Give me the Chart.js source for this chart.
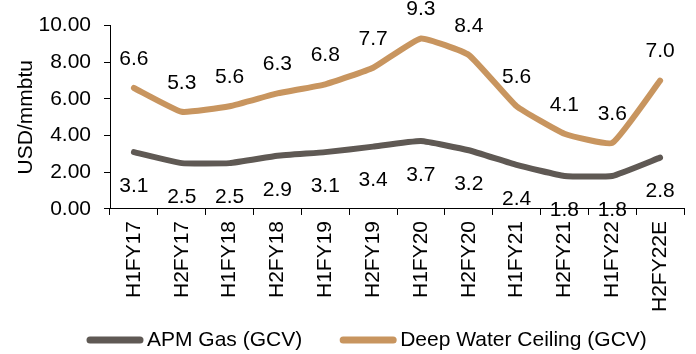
<!DOCTYPE html>
<html>
<head>
<meta charset="utf-8">
<script src="https://cdn.jsdelivr.net/npm/chart.js@4/dist/chart.umd.min.js"></script>
<style>
  body { margin: 0; background: #fff; }
  canvas { display: block; }
</style>
</head>
<body>
<canvas id="gas" width="696" height="354"></canvas>
<script>
// half-year periods
const periods = ['H1FY17', 'H2FY17', 'H1FY18', 'H2FY18', 'H1FY19', 'H2FY19',
                 'H1FY20', 'H2FY20', 'H1FY21', 'H2FY21', 'H1FY22', 'H2FY22E'];
const apmGas = [3.1, 2.5, 2.5, 2.9, 3.1, 3.4, 3.7, 3.2, 2.4, 1.8, 1.8, 2.8];
const deepWater = [6.6, 5.3, 5.6, 6.3, 6.8, 7.7, 9.3, 8.4, 5.6, 4.1, 3.6, 7.0];
const yTicks = [0, 2, 4, 6, 8, 10];

const FONT = "'Liberation Sans', Arial, sans-serif";
const FS = 21;

// value labels: tan above the line, grey below
const valueLabels = {
    id: 'valueLabels',
    afterDatasetsDraw(chart) {
        const ctx = chart.ctx;
        ctx.save();
        ctx.font = FS + 'px ' + FONT;
        ctx.fillStyle = '#000';
        ctx.textAlign = 'center';
        ctx.textBaseline = 'middle';
        chart.data.datasets.forEach((ds, i) => {
            const meta = chart.getDatasetMeta(i);
            const off = i === 0 ? 34 : -29;
            meta.data.forEach((pt, j) => {
                ctx.fillText(ds.data[j].toFixed(1), pt.x, pt.y + off);
            });
        });
        ctx.restore();
    }
};

// legend drawn by hand so it sits where the original one does
const bottomLegend = {
    id: 'bottomLegend',
    afterDraw(chart) {
        const ctx = chart.ctx;
        ctx.save();
        ctx.font = FS + 'px ' + FONT;
        ctx.textBaseline = 'middle';
        let x = 90;
        const y = 340;
        chart.data.datasets.forEach(ds => {
            ctx.strokeStyle = ds.borderColor;
            ctx.lineWidth = 7;
            ctx.lineCap = 'round';
            ctx.beginPath();
            ctx.moveTo(x, y);
            ctx.lineTo(x + 50, y);
            ctx.stroke();
            x += 57;
            ctx.fillStyle = '#000';
            ctx.fillText(ds.label, x, y);
            x += ctx.measureText(ds.label).width + 41;
        });
        ctx.restore();
    }
};

const ctx = document.getElementById('gas').getContext('2d');
var gasChart = new Chart(ctx, {
    type: 'line',
    data: {
        labels: periods,
        datasets: [
            {
                label: 'APM Gas (GCV)',
                data: apmGas,
                borderColor: '#5f5954',
                borderWidth: 6,
                tension: 0.12,
                pointRadius: 0,
                borderCapStyle: 'round',
                borderJoinStyle: 'round'
            },
            {
                label: 'Deep Water Ceiling (GCV)',
                data: deepWater,
                borderColor: '#c8955f',
                borderWidth: 6,
                tension: 0.12,
                pointRadius: 0,
                borderCapStyle: 'round',
                borderJoinStyle: 'round'
            }
        ]
    },
    options: {
        responsive: false,
        animation: false,
        layout: {
            autoPadding: false,
            padding: { top: 9.4, right: 12, left: 6.2, bottom: 36 }
        },
        scales: {
            x: {
                offset: true,
                grid: {
                    offset: true,
                    drawOnChartArea: false,
                    tickLength: 6,
                    color: '#000'
                },
                border: { color: '#000', width: 1 },
                ticks: {
                    color: '#000',
                    font: { family: FONT, size: FS },
                    minRotation: 90,
                    maxRotation: 90,
                    autoSkip: false,
                    padding: 6
                }
            },
            y: {
                min: 0,
                max: 10,
                afterBuildTicks: axis => { axis.ticks = yTicks.map(v => ({ value: v })); },
                afterFit: axis => { axis.width = 103.8; },
                grid: {
                    drawOnChartArea: false,
                    tickLength: 6,
                    color: '#000'
                },
                border: { color: '#000', width: 1 },
                ticks: {
                    color: '#000',
                    font: { family: FONT, size: FS },
                    padding: 13,
                    callback: v => v.toFixed(2)
                },
                title: {
                    display: true,
                    text: 'USD/mmbtu',
                    color: '#000',
                    font: { family: FONT, size: FS },
                    padding: { top: 7, bottom: 0 }
                }
            }
        },
        plugins: {
            legend: { display: false },
            tooltip: { enabled: false }
        }
    },
    plugins: [valueLabels, bottomLegend]
});
</script>
</body>
</html>
